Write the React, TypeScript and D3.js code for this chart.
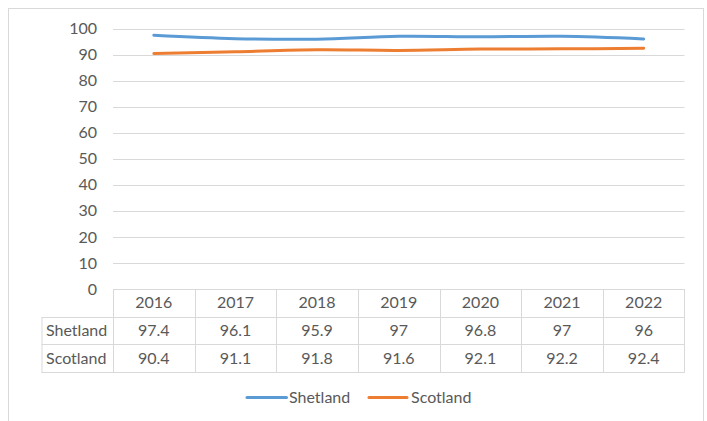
import React from "react";
import * as d3 from "d3";

const years = ["2016", "2017", "2018", "2019", "2020", "2021", "2022"];
const shetland = [97.4, 96.1, 95.9, 97, 96.8, 97, 96];
const scotland = [90.4, 91.1, 91.8, 91.6, 92.1, 92.2, 92.4];
const yTicks = [0, 10, 20, 30, 40, 50, 60, 70, 80, 90, 100];
const seriesNames = ["Shetland", "Scotland"];
const seriesColors = ["#5B9BD5", "#ED7D31"];

const W = 707;
const H = 421;
const FONT = "Lato, 'Open Sans', sans-serif";
const TXT = "#595959";
const GRID = "#D9D9D9";

export default function App() {
  const x = d3.scaleBand<string>().domain(years).range([113, 684.5]).padding(0);
  const y = d3.scaleLinear().domain([0, 100]).range([289, 28.5]);
  const series = [shetland, scotland];
  const line = d3
    .line<number>()
    .x((_, i) => (x(years[i]) as number) + x.bandwidth() / 2)
    .y((d) => y(d))
    .curve(d3.curveCatmullRom.alpha(0.5));

  const rowTop = 289;
  const rowH = 27.7;
  const tableLeft = 41.5;
  const rows = [0, 1, 2, 3].map((i) => rowTop + i * rowH);

  return (
    <div style={{ position: "fixed", left: 0, top: 0 }}>
      <svg width={W} height={H} style={{ display: "block", background: "#fff" }}>
        <rect x={8.5} y={8.5} width={695} height={430} fill="#fff" stroke={GRID} strokeWidth={1} />
        {yTicks.filter((t) => t > 0).map((t) => (
          <line key={t} x1={113} x2={684.5} y1={Math.round(y(t)) + 0.5} y2={Math.round(y(t)) + 0.5} stroke={GRID} strokeWidth={1} />
        ))}
        {yTicks.map((t) => (
          <text key={t} x={97} y={y(t)} dy="0.35em" textAnchor="end" fontFamily={FONT} fontSize={16} fill={TXT}>
            {t}
          </text>
        ))}
        {/* table grid */}
        <line x1={113} x2={684.5} y1={rows[0] + 0.5} y2={rows[0] + 0.5} stroke={GRID} />
        {rows.slice(1).map((r, i) => (
          <line key={i} x1={tableLeft} x2={684.5} y1={Math.round(r) + 0.5} y2={Math.round(r) + 0.5} stroke={GRID} />
        ))}
        <line x1={tableLeft + 0.5} x2={tableLeft + 0.5} y1={Math.round(rows[1]) + 0.5} y2={Math.round(rows[3]) + 0.5} stroke={GRID} />
        {years.map((yr) => (
          <line key={yr} x1={Math.round(x(yr) as number) + 0.5} x2={Math.round(x(yr) as number) + 0.5} y1={rows[0]} y2={Math.round(rows[3]) + 0.5} stroke={GRID} />
        ))}
        <line x1={684.5} x2={684.5} y1={rows[0]} y2={Math.round(rows[3]) + 0.5} stroke={GRID} />
        {years.map((yr) => (
          <text key={yr} x={(x(yr) as number) + x.bandwidth() / 2} y={rows[0] + rowH / 2} dy="0.35em" textAnchor="middle" fontFamily={FONT} fontSize={16} fill={TXT}>
            {yr}
          </text>
        ))}
        {series.map((s, si) => (
          <g key={si}>
            <text x={46} y={rows[si + 1] + rowH / 2} dy="0.35em" fontFamily={FONT} fontSize={16} fill={TXT}>
              {seriesNames[si]}
            </text>
            {s.map((v, i) => (
              <text key={i} x={(x(years[i]) as number) + x.bandwidth() / 2} y={rows[si + 1] + rowH / 2} dy="0.35em" textAnchor="middle" fontFamily={FONT} fontSize={16} fill={TXT}>
                {String(v)}
              </text>
            ))}
          </g>
        ))}
        {series.map((s, si) => (
          <path key={si} d={line(s) as string} fill="none" stroke={seriesColors[si]} strokeWidth={3} strokeLinecap="round" />
        ))}
        {/* legend */}
        {[
          { x1: 247, x2: 286.5, tx: 289 },
          { x1: 369, x2: 407, tx: 411 },
        ].map((l, i) => (
          <g key={i}>
            <line x1={l.x1} x2={l.x2} y1={397.5} y2={397.5} stroke={seriesColors[i]} strokeWidth={3} strokeLinecap="round" />
            <text x={l.tx} y={397.5} dy="0.35em" fontFamily={FONT} fontSize={16} fill={TXT}>
              {seriesNames[i]}
            </text>
          </g>
        ))}
      </svg>
    </div>
  );
}
